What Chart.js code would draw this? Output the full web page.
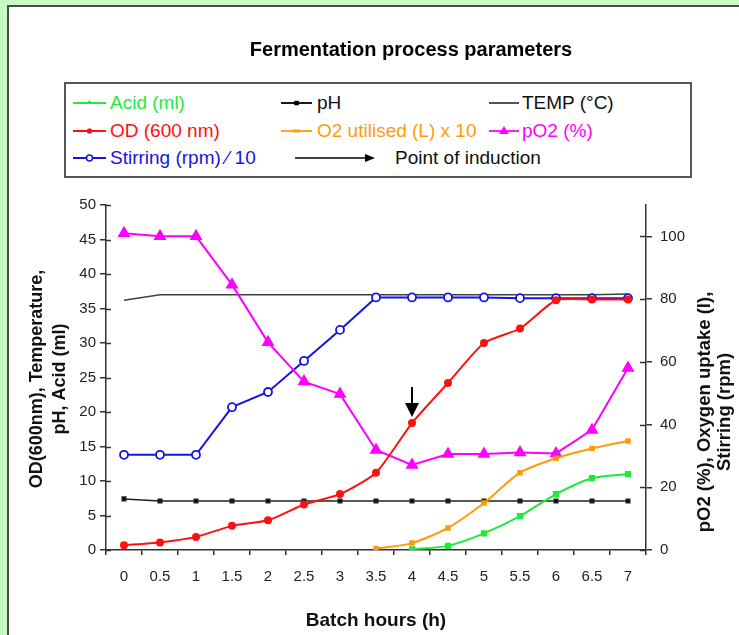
<!DOCTYPE html>
<html>
<head>
<meta charset="utf-8">
<script src="https://cdn.jsdelivr.net/npm/chart.js@4/dist/chart.umd.min.js"></script>
<style>
  html, body { margin: 0; padding: 0; }
  body { width: 739px; height: 635px; overflow: hidden; background: #c6fcc2; position: relative;
         font-family: "Liberation Sans", Arial, sans-serif; }
  #panel { position: absolute; left: 7px; top: 5px; width: 820px; height: 700px;
           background: #fff; border: 2px solid #4a4a4a; box-sizing: border-box; }
  #chart { position: absolute; left: 0; top: 0; }
  #legend { position: absolute; left: 64px; top: 82px; width: 628px; height: 96px;
            border: 2px solid #555; box-sizing: border-box; background: #fff; }
  .item { position: absolute; height: 20px; line-height: 20px; font-size: 19px; white-space: nowrap; }
  .item svg { position: absolute; left: 0; top: 4px; }
  .item span { position: absolute; top: 0; }
</style>
</head>
<body>
<div id="panel"></div>
<div id="legend"></div>
<canvas id="chart" width="739" height="635"></canvas>
<script>
// batch hours
var hours = ["0", "0.5", "1", "1.5", "2", "2.5", "3", "3.5", "4", "4.5", "5", "5.5", "6", "6.5", "7"];

// left axis series
var acid = [null, null, null, null, null, null, null, null, 0.1, 0.6, 2.4, 4.9, 8.1, 10.4, 11.0];
var ph = [7.4, 7.1, 7.1, 7.1, 7.1, 7.1, 7.1, 7.1, 7.1, 7.1, 7.1, 7.1, 7.1, 7.1, 7.1];
var temp = [36.2, 37, 37, 37, 37, 37, 37, 37, 37, 37, 37, 37, 37, 37, 37.1];
var od = [0.7, 1.1, 1.9, 3.5, 4.3, 6.6, 8.1, 11.2, 18.4, 24.2, 30.0, 32.1, 36.2, 36.3, 36.3];
var o2Used = [null, null, null, null, null, null, null, 0.2, 1.0, 3.2, 6.8, 11.2, 13.3, 14.7, 15.8];
var stirring = [13.8, 13.8, 13.8, 20.7, 22.9, 27.4, 31.9, 36.6, 36.6, 36.6, 36.6, 36.5, 36.5, 36.5, 36.5];

// right axis series
var po2 = [101, 100, 100, 84.6, 66.2, 53.7, 49.7, 31.9, 27.1, 30.6, 30.6, 31.1, 30.8, 38.3, 58];

var inductionIndex = 8; // 4 h

var GREEN = "#1eea3c", RED = "#ff1010", ORANGE = "#ff9a0a", MAGENTA = "#ff00ff",
    BLUE = "#1414e6", GREY = "#404040", BLACK = "#000";

// legend (html)
var legendItems = [
  { label: "Acid (ml)", color: GREEN, marker: "tri-small", col: 0, row: 0 },
  { label: "pH", color: BLACK, text: "#111", marker: "square", col: 1, row: 0 },
  { label: "TEMP (°C)", color: GREY, text: "#111", marker: "none", col: 2, row: 0 },
  { label: "OD (600 nm)", color: RED, marker: "dot", col: 0, row: 1 },
  { label: "O2 utilised (L) x 10", color: ORANGE, marker: "dash", col: 1, row: 1 },
  { label: "pO2 (%)", color: MAGENTA, marker: "triangle", col: 2, row: 1 },
  { label: "Stirring (rpm) \u2044 10", color: BLUE, marker: "ring", col: 0, row: 2 },
  { label: "Point of induction", color: BLACK, text: "#111", marker: "arrow", col: 1, row: 2 }
];
var colX = [7, 215, 423];
var lineW = [33, 31, 30];
var textGap = [37, 36, 33];
var rowY = [9, 37, 64];

function markerSvg(it) {
  var w = it.marker === "arrow" ? 82 : lineW[it.col];
  var m = w / 2;
  var c = it.color;
  var s = '<svg width="' + w + '" height="12">';
  if (it.marker === "arrow") {
    s += '<line x1="0" y1="6" x2="72" y2="6" stroke="' + c + '" stroke-width="1.6"/>';
    s += '<polygon points="70,2 80,6 70,10" fill="' + c + '"/>';
  } else {
    s += '<line x1="0" y1="6" x2="' + w + '" y2="6" stroke="' + c + '" stroke-width="1.8"/>';
    if (it.marker === "square") s += '<rect x="' + (m - 2.2) + '" y="3.8" width="4.5" height="4.5" fill="' + c + '"/>';
    if (it.marker === "dot") s += '<rect x="' + (m - 2.5) + '" y="3.5" width="5" height="5" rx="1.5" fill="' + c + '"/>';
    if (it.marker === "dash") s += '<rect x="' + (m - 3.5) + '" y="4.5" width="7" height="3" fill="' + c + '"/>';
    if (it.marker === "tri-small") s += '<polygon points="' + m + ',3 ' + (m + 3) + ',7 ' + (m - 3) + ',7" fill="' + c + '"/>';
    if (it.marker === "triangle") s += '<polygon points="' + m + ',1 ' + (m + 5) + ',9 ' + (m - 5) + ',9" fill="' + c + '"/>';
    if (it.marker === "ring") s += '<circle cx="' + m + '" cy="6" r="3" fill="#fff" stroke="' + c + '" stroke-width="1.5"/>';
  }
  return s + '</svg>';
}

var legend = document.getElementById("legend");
legendItems.forEach(function (it) {
  var d = document.createElement("div");
  d.className = "item";
  var isArrow = it.marker === "arrow";
  d.style.left = (colX[it.col] + (isArrow ? 14 : 0)) + "px";
  d.style.top = rowY[it.row] + "px";
  var gap = isArrow ? 100 : textGap[it.col];
  d.innerHTML = markerSvg(it) + '<span style="left:' + gap + 'px;color:' + (it.text || it.color) + '">' + it.label + '</span>';
  legend.appendChild(d);
});

// extra drawing: titles, inner ticks, induction arrow
var extras = {
  id: "extras",
  afterDraw: function (chart) {
    var ctx = chart.ctx, a = chart.chartArea;
    var x = chart.scales.x, y = chart.scales.y, y1 = chart.scales.y1;
    ctx.save();

    // inner tick marks
    ctx.strokeStyle = "#333";
    ctx.lineWidth = 1.5;
    ctx.beginPath();
    y.ticks.forEach(function (t) {
      var p = Math.round(y.getPixelForValue(t.value)) + 0.5;
      ctx.moveTo(a.left, p); ctx.lineTo(a.left + 5, p);
    });
    y1.ticks.forEach(function (t) {
      var p = Math.round(y1.getPixelForValue(t.value)) + 0.5;
      ctx.moveTo(a.right - 6, p); ctx.lineTo(a.right, p);
    });
    ctx.stroke();

    // arrow at induction point
    var ax = x.getPixelForValue(inductionIndex);
    var tip = y.getPixelForValue(od[inductionIndex]) - 6;
    ctx.strokeStyle = "#000";
    ctx.fillStyle = "#000";
    ctx.lineWidth = 2;
    ctx.beginPath();
    ctx.moveTo(ax, tip - 30); ctx.lineTo(ax, tip - 12);
    ctx.stroke();
    ctx.beginPath();
    ctx.moveTo(ax - 7, tip - 14); ctx.lineTo(ax + 7, tip - 14); ctx.lineTo(ax, tip);
    ctx.closePath();
    ctx.fill();

    // chart title
    ctx.fillStyle = "#000";
    ctx.textAlign = "center";
    ctx.textBaseline = "alphabetic";
    ctx.font = "bold 20px 'Liberation Sans', Arial, sans-serif";
    ctx.fillText("Fermentation process parameters", 411, 56);

    // axis titles
    ctx.fillStyle = "#111";
    ctx.font = "bold 19px 'Liberation Sans', Arial, sans-serif";
    ctx.textBaseline = "middle";
    ctx.fillText("Batch hours (h)", (a.left + a.right) / 2, 621);

    ctx.font = "bold 18px 'Liberation Sans', Arial, sans-serif";
    ctx.save();
    ctx.translate(0, 379);
    ctx.rotate(-Math.PI / 2);
    ctx.fillText("OD(600nm), Temperature,", 0, 37);
    ctx.fillText("pH, Acid (ml)", 0, 60);
    ctx.restore();

    ctx.font = "bold 18.5px 'Liberation Sans', Arial, sans-serif";
    ctx.save();
    ctx.translate(0, 412);
    ctx.rotate(-Math.PI / 2);
    ctx.fillText("pO2 (%), Oxygen uptake (l),", 0, 705);
    ctx.fillText("Stirring (rpm)", 0, 725);
    ctx.restore();

    ctx.restore();
  }
};

var ctx = document.getElementById("chart");
var tickFont = { family: "'Liberation Sans', Arial, sans-serif", size: 15 };

new Chart(ctx, {
  type: "line",
  data: {
    labels: hours,
    datasets: [
      {
        label: "Acid (ml)",
        data: acid,
        yAxisID: "y",
        borderColor: GREEN,
        backgroundColor: GREEN,
        borderWidth: 2,
        pointStyle: "rect",
        pointRadius: 3,
        tension: 0.25,
      },
      {
        label: "O2 utilised (L) x 10",
        data: o2Used,
        yAxisID: "y",
        borderColor: ORANGE,
        backgroundColor: ORANGE,
        borderWidth: 2,
        pointStyle: "rect",
        pointRadius: 2.5,
        tension: 0.25,
      },
      {
        label: "OD (600 nm)",
        data: od,
        yAxisID: "y",
        borderColor: RED,
        backgroundColor: RED,
        borderWidth: 2,
        pointStyle: "circle",
        pointRadius: 3,
        tension: 0.2,
      },
      {
        label: "pO2 (%)",
        data: po2,
        yAxisID: "y1",
        borderColor: MAGENTA,
        backgroundColor: MAGENTA,
        borderWidth: 2,
        pointStyle: "triangle",
        pointRadius: 5.5,
      },
      {
        label: "Stirring (rpm) / 10",
        data: stirring,
        yAxisID: "y",
        borderColor: BLUE,
        backgroundColor: "#fff",
        borderWidth: 2,
        pointStyle: "circle",
        pointRadius: 4,
        pointBorderWidth: 1.8,
      },
      {
        label: "TEMP (°C)",
        data: temp,
        yAxisID: "y",
        borderColor: GREY,
        borderWidth: 1.6,
        pointRadius: 0,
      },
      {
        label: "pH",
        data: ph,
        yAxisID: "y",
        borderColor: "#222",
        backgroundColor: BLACK,
        borderWidth: 1.6,
        pointStyle: "rect",
        pointRadius: 2.5,
      },
    ],
  },
  options: {
    responsive: false,
    animation: false,
    devicePixelRatio: 1,
    layout: { padding: { top: 205, left: 0, right: 0, bottom: 0 } },
    plugins: {
      legend: { display: false },
      tooltip: { enabled: false },
    },
    scales: {
      x: {
        offset: true,
        grid: { offset: true, drawOnChartArea: false, tickLength: 5, color: "#333", lineWidth: 1.5 },
        border: { color: "#333", width: 1.5 },
        ticks: { color: "#222", font: tickFont, padding: 13, maxRotation: 0, autoSkip: false },
        afterFit: function (s) { s.height = 85; },
      },
      y: {
        position: "left",
        min: 0,
        max: 50,
        grid: { drawOnChartArea: false, tickLength: 6, color: "#333", lineWidth: 1.5 },
        border: { color: "#333", width: 1.5 },
        ticks: { stepSize: 5, color: "#222", font: tickFont, padding: 4 },
        afterFit: function (s) { s.width = 106; },
      },
      y1: {
        position: "right",
        min: 0,
        max: 110,
        grid: { drawOnChartArea: false, tickLength: 6, color: "#333", lineWidth: 1.5 },
        border: { color: "#333", width: 1.5 },
        ticks: { stepSize: 20, includeBounds: false, color: "#222", font: tickFont, padding: 8 },
        afterFit: function (s) { s.width = 93; },
      },
    },
  },
  plugins: [extras],
});
</script>
</body>
</html>
